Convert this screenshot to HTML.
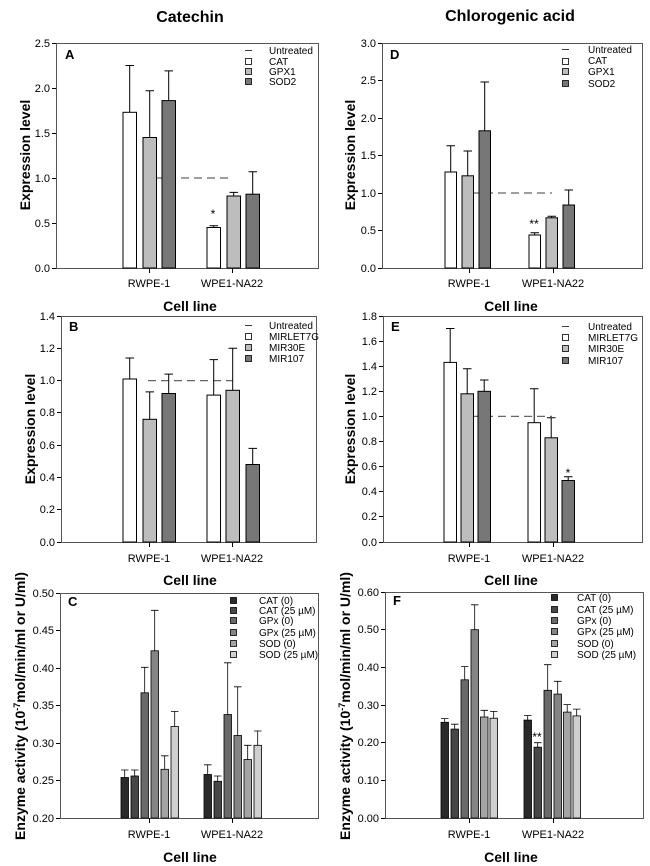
<!DOCTYPE html>
<html><head><meta charset="utf-8"><style>
html,body{margin:0;padding:0;background:#fff}
svg{display:block}
text{font-family:"Liberation Sans",Arial,sans-serif;fill:#000}
.t{font-size:11px}
.lg{font-size:10px;fill:#222}
.ax{font-size:14px;font-weight:bold}
.ti{font-size:16px;font-weight:bold}
.pl{font-size:13px;font-weight:bold}
</style></head><body>
<svg width="650" height="866" viewBox="0 0 650 866" xmlns="http://www.w3.org/2000/svg">
<g stroke="#000" stroke-width="1" fill="none">
<!-- frames -->
<rect x="56.5" y="43.5" width="262" height="225" stroke="#555"/>
<rect x="61.5" y="316.5" width="255" height="226" stroke="#555"/>
<rect x="60.5" y="593.5" width="258" height="225" stroke="#555"/>
<rect x="382.5" y="43.5" width="260" height="225" stroke="#555"/>
<rect x="383.5" y="316.5" width="259" height="226" stroke="#555"/>
<rect x="385.5" y="592.5" width="258" height="226" stroke="#555"/>
</g>
<!-- y ticks -->
<g stroke="#000">
<path d="M52 268.5h4M52 223.5h4M52 178.5h4M52 133.5h4M52 88.5h4M52 43.5h4"/>
<path d="M57 542.5h4M57 509.5h4M57 477.5h4M57 445.5h4M57 412.5h4M57 380.5h4M57 348.5h4M57 316.5h4"/>
<path d="M56 818.5h4M56 780.5h4M56 743.5h4M56 705.5h4M56 668.5h4M56 630.5h4M56 593.5h4"/>
<path d="M378 268.5h4M378 230.5h4M378 193.5h4M378 155.5h4M378 118.5h4M378 80.5h4M378 43.5h4"/>
<path d="M379 542.5h4M379 516.5h4M379 491.5h4M379 466.5h4M379 441.5h4M379 416.5h4M379 391.5h4M379 366.5h4M379 341.5h4M379 316.5h4"/>
<path d="M381 818.5h4M381 780.5h4M381 742.5h4M381 705.5h4M381 667.5h4M381 629.5h4M381 592.5h4"/>
<!-- x ticks -->
<path d="M149.5 268v5M232.5 268v5M149.5 542v5M232.5 542v5M149.5 818v5M232.5 818v5M469.5 268v5M553.5 268v5M469.5 542v5M553.5 542v5M469.5 818v5M553.5 818v5"/>
</g>
<!-- tick labels -->
<g class="t" text-anchor="end">
<text x="50" y="272">0.0</text><text x="50" y="227">0.5</text><text x="50" y="182">1.0</text><text x="50" y="137">1.5</text><text x="50" y="92">2.0</text><text x="50" y="47">2.5</text>
<text x="55" y="546">0.0</text><text x="55" y="513">0.2</text><text x="55" y="481">0.4</text><text x="55" y="449">0.6</text><text x="55" y="416">0.8</text><text x="55" y="384">1.0</text><text x="55" y="352">1.2</text><text x="55" y="320">1.4</text>
<text x="54" y="822">0.20</text><text x="54" y="784">0.25</text><text x="54" y="747">0.30</text><text x="54" y="709">0.35</text><text x="54" y="672">0.40</text><text x="54" y="634">0.45</text><text x="54" y="597">0.50</text>
<text x="376" y="272">0.0</text><text x="376" y="234">0.5</text><text x="376" y="197">1.0</text><text x="376" y="159">1.5</text><text x="376" y="122">2.0</text><text x="376" y="84">2.5</text><text x="376" y="47">3.0</text>
<text x="377" y="546">0.0</text><text x="377" y="520">0.2</text><text x="377" y="495">0.4</text><text x="377" y="470">0.6</text><text x="377" y="445">0.8</text><text x="377" y="420">1.0</text><text x="377" y="395">1.2</text><text x="377" y="370">1.4</text><text x="377" y="345">1.6</text><text x="377" y="320">1.8</text>
<text x="379" y="822">0.00</text><text x="379" y="784">0.10</text><text x="379" y="746">0.20</text><text x="379" y="709">0.30</text><text x="379" y="671">0.40</text><text x="379" y="633">0.50</text><text x="379" y="596">0.60</text>
</g>
<g class="t" text-anchor="middle">
<text x="149" y="287">RWPE-1</text><text x="232" y="287">WPE1-NA22</text>
<text x="149" y="562">RWPE-1</text><text x="232" y="562">WPE1-NA22</text>
<text x="149" y="838">RWPE-1</text><text x="232" y="838">WPE1-NA22</text>
<text x="469" y="287">RWPE-1</text><text x="553" y="287">WPE1-NA22</text>
<text x="469" y="562">RWPE-1</text><text x="553" y="562">WPE1-NA22</text>
<text x="469" y="838">RWPE-1</text><text x="553" y="838">WPE1-NA22</text>
</g>
<g class="ax" text-anchor="middle">
<text x="190" y="311">Cell line</text><text x="190" y="585">Cell line</text><text x="190" y="862">Cell line</text>
<text x="511" y="311">Cell line</text><text x="511" y="585">Cell line</text><text x="511" y="862">Cell line</text>
<text transform="translate(30,155) rotate(-90)">Expression level</text>
<text transform="translate(35,429) rotate(-90)">Expression level</text>
<text transform="translate(355,155) rotate(-90)">Expression level</text>
<text transform="translate(355,429) rotate(-90)">Expression level</text>
<text transform="translate(25,706) rotate(-90)">Enzyme activity (10<tspan font-size="9" dy="-5">-7</tspan><tspan dy="5">mol/min/ml or U/ml)</tspan></text>
<text transform="translate(350,706) rotate(-90)">Enzyme activity (10<tspan font-size="9" dy="-5">-7</tspan><tspan dy="5">mol/min/ml or U/ml)</tspan></text>
</g>
<g class="ti" text-anchor="middle"><text x="190" y="22">Catechin</text><text x="510" y="21">Chlorogenic acid</text></g>
<g class="pl"><text x="65" y="59">A</text><text x="69" y="331">B</text><text x="68" y="606">C</text><text x="390" y="59">D</text><text x="391" y="331">E</text><text x="393" y="605">F</text></g>

<!-- dashed -->
<g stroke="#666" stroke-width="1.3" stroke-dasharray="8,5">
<path d="M155 178H233M148 380.6H233M472 193H552M472 416.4H552"/>
</g>

<!-- Panel A bars -->
<g stroke="#000" stroke-width="1">
<rect x="123" y="112.3" width="13.5" height="155.7" fill="#fff"/>
<rect x="143" y="137.5" width="13.5" height="130.5" fill="#bdbdbd"/>
<rect x="162" y="100.6" width="13.5" height="167.4" fill="#777"/>
<rect x="207" y="227.5" width="13.5" height="40.5" fill="#fff"/>
<rect x="227" y="196" width="13.5" height="72" fill="#bdbdbd"/>
<rect x="246" y="194.2" width="13.5" height="73.8" fill="#777"/>
<path d="M129.7 112.3V65.5M125.5 65.5h8.5M149.7 137.5V90.7M145.5 90.7h8.5M168.7 100.6V70.9M164.5 70.9h8.5M213.7 227.5V225.7M209.5 225.7h8.5M233.7 196V192.4M229.5 192.4h8.5M252.7 194.2V171.7M248.5 171.7h8.5"/>
</g>
<!-- B -->
<g stroke="#000">
<rect x="123" y="379" width="13.5" height="163" fill="#fff"/>
<rect x="143" y="419.3" width="13.5" height="122.7" fill="#bdbdbd"/>
<rect x="162" y="393.5" width="13.5" height="148.5" fill="#777"/>
<rect x="207" y="395.1" width="13.5" height="146.9" fill="#fff"/>
<rect x="226" y="390.3" width="13.5" height="151.7" fill="#bdbdbd"/>
<rect x="246" y="464.5" width="13.5" height="77.5" fill="#777"/>
<path d="M129.7 379V358M125.5 358h8.5M149.7 419.3V391.9M145.5 391.9h8.5M168.7 393.5V374.1M164.5 374.1h8.5M213.7 395.1V359.6M209.5 359.6h8.5M232.7 390.3V348.3M228.5 348.3h8.5M252.7 464.5V448.4M248.5 448.4h8.5"/>
</g>
<!-- D -->
<g stroke="#000">
<rect x="445" y="172" width="11.5" height="96" fill="#fff"/>
<rect x="462" y="175.8" width="11.5" height="92.2" fill="#bdbdbd"/>
<rect x="479" y="130.8" width="11.5" height="137.2" fill="#777"/>
<rect x="529" y="235" width="11.5" height="33" fill="#fff"/>
<rect x="546" y="217.8" width="11.5" height="50.2" fill="#bdbdbd"/>
<rect x="563" y="205" width="11.5" height="63" fill="#777"/>
<path d="M450.7 172V145.8M446.5 145.8h8.5M467.7 175.8V151M463.5 151h8.5M484.7 130.8V82M480.5 82h8.5M534.7 235V232.8M530.5 232.8h8.5M551.7 217.8V216.3M547.5 216.3h8.5M568.7 205V190M564.5 190h8.5"/>
</g>
<!-- E -->
<g stroke="#000">
<rect x="444" y="362.4" width="12.5" height="179.6" fill="#fff"/>
<rect x="461" y="393.8" width="12.5" height="148.2" fill="#bdbdbd"/>
<rect x="478" y="391.3" width="12.5" height="150.7" fill="#777"/>
<rect x="528" y="422.7" width="12.5" height="119.3" fill="#fff"/>
<rect x="545" y="437.8" width="12.5" height="104.2" fill="#bdbdbd"/>
<rect x="562" y="480.5" width="12.5" height="61.5" fill="#777"/>
<path d="M450.2 362.4V328.5M446 328.5h8.5M467.2 393.8V368.7M463 368.7h8.5M484.2 391.3V380M480 380h8.5M534.2 422.7V388.8M530 388.8h8.5M551.2 437.8V417.7M547 417.7h8.5M568.2 480.5V476.7M564 476.7h8.5"/>
</g>
<!-- C -->
<g stroke="#000" stroke-width="0.8">
<rect x="121" y="777.5" width="7.5" height="40.5" fill="#2a2a2a"/>
<rect x="131" y="776" width="7.5" height="42" fill="#474747"/>
<rect x="141" y="692.8" width="7.5" height="125.2" fill="#696969"/>
<rect x="151" y="650.8" width="7.5" height="167.2" fill="#858585"/>
<rect x="161" y="769.3" width="7.5" height="48.7" fill="#a4a4a4"/>
<rect x="171" y="726.5" width="7.5" height="91.5" fill="#cfcfcf"/>
<rect x="204" y="774.5" width="7.5" height="43.5" fill="#2a2a2a"/>
<rect x="214" y="781.3" width="7.5" height="36.7" fill="#474747"/>
<rect x="224" y="714.5" width="7.5" height="103.5" fill="#696969"/>
<rect x="234" y="735.5" width="7.5" height="82.5" fill="#858585"/>
<rect x="244" y="759.5" width="7.5" height="58.5" fill="#a4a4a4"/>
<rect x="254" y="745.3" width="7.5" height="72.7" fill="#cfcfcf"/>
<path d="M124.7 777.5V770M121 770h7.5M134.7 776V770M131 770h7.5M144.7 692.8V667.3M141 667.3h7.5M154.7 650.8V610.3M151 610.3h7.5M164.7 769.3V755.8M161 755.8h7.5M174.7 726.5V711.5M171 711.5h7.5M207.7 774.5V764.8M204 764.8h7.5M217.7 781.3V776M214 776h7.5M227.7 714.5V662.8M224 662.8h7.5M237.7 735.5V686.8M234 686.8h7.5M247.7 759.5V745.3M244 745.3h7.5M257.7 745.3V731M254 731h7.5"/>
</g>
<!-- F -->
<g stroke="#000" stroke-width="0.8">
<rect x="441" y="722.3" width="7.5" height="95.7" fill="#2a2a2a"/>
<rect x="451" y="729.1" width="7.5" height="88.9" fill="#474747"/>
<rect x="461" y="679.8" width="7.5" height="138.2" fill="#696969"/>
<rect x="471" y="629.7" width="7.5" height="188.3" fill="#858585"/>
<rect x="480.5" y="717" width="7.5" height="101" fill="#a4a4a4"/>
<rect x="490" y="718.2" width="7.5" height="99.8" fill="#cfcfcf"/>
<rect x="524" y="720.1" width="7.5" height="97.9" fill="#2a2a2a"/>
<rect x="534" y="747.2" width="7.5" height="70.8" fill="#474747"/>
<rect x="544" y="690.3" width="7.5" height="127.7" fill="#696969"/>
<rect x="554" y="694.1" width="7.5" height="123.9" fill="#858585"/>
<rect x="563.5" y="712.1" width="7.5" height="105.9" fill="#a4a4a4"/>
<rect x="573" y="715.9" width="7.5" height="102.1" fill="#cfcfcf"/>
<path d="M444.7 722.3V718.6M441 718.6h7.5M454.7 729.1V724.2M451 724.2h7.5M464.7 679.8V666.6M461 666.6h7.5M474.7 629.7V604.8M471 604.8h7.5M484.2 717V710.3M480.5 710.3h7.5M493.7 718.2V711.4M490 711.4h7.5M527.7 720.1V715.5M524 715.5h7.5M537.7 747.2V742.7M534 742.7h7.5M547.7 690.3V664.7M544 664.7h7.5M557.7 694.1V681.3M554 681.3h7.5M567.2 712.1V704.6M563.5 704.6h7.5M576.7 715.9V709.1M573 709.1h7.5"/>
</g>
<!-- significance -->
<g font-size="12" text-anchor="middle" font-family="Liberation Sans,sans-serif">
<text x="213" y="218">*</text><text x="534" y="228">**</text><text x="568" y="477">*</text><text x="537" y="741">**</text>
</g>

<!-- Legends A/D -->
<g stroke="#000" stroke-width="0.8">
<path d="M245 50.5h7M562 49.5h7M245 325.5h7M562 326.5h7"/>
<rect x="245.5" y="58.5" width="6" height="6" fill="#fff"/><rect x="245.5" y="68.5" width="6" height="6" fill="#bdbdbd"/><rect x="245.5" y="78.5" width="6" height="6" fill="#777"/>
<rect x="562.5" y="58.5" width="6" height="6" fill="#fff"/><rect x="562.5" y="68.5" width="6" height="6" fill="#bdbdbd"/><rect x="562.5" y="80.5" width="6" height="6" fill="#777"/>
<rect x="245.5" y="333.5" width="6" height="6" fill="#fff"/><rect x="245.5" y="344.5" width="6" height="6" fill="#bdbdbd"/><rect x="245.5" y="355.5" width="6" height="6" fill="#777"/>
<rect x="562.5" y="334.5" width="6" height="6" fill="#fff"/><rect x="562.5" y="345.5" width="6" height="6" fill="#bdbdbd"/><rect x="562.5" y="357.5" width="6" height="6" fill="#777"/>
<rect x="230.5" y="597.5" width="6" height="6" fill="#2a2a2a"/><rect x="230.5" y="607.5" width="6" height="6" fill="#474747"/><rect x="230.5" y="617.5" width="6" height="6" fill="#696969"/><rect x="230.5" y="629.5" width="6" height="6" fill="#858585"/><rect x="230.5" y="640.5" width="6" height="6" fill="#a4a4a4"/><rect x="230.5" y="651.5" width="6" height="6" fill="#cfcfcf"/>
<rect x="551.5" y="594.5" width="6" height="6" fill="#2a2a2a"/><rect x="551.5" y="606.5" width="6" height="6" fill="#474747"/><rect x="551.5" y="617.5" width="6" height="6" fill="#696969"/><rect x="551.5" y="628.5" width="6" height="6" fill="#858585"/><rect x="551.5" y="640.5" width="6" height="6" fill="#a4a4a4"/><rect x="551.5" y="651.5" width="6" height="6" fill="#cfcfcf"/>
</g>
<g class="lg">
<text x="269" y="54">Untreated</text><text x="269" y="65">CAT</text><text x="269" y="75">GPX1</text><text x="269" y="85">SOD2</text>
<text x="588" y="53">Untreated</text><text x="588" y="64">CAT</text><text x="588" y="75">GPX1</text><text x="588" y="87">SOD2</text>
<text x="269" y="329">Untreated</text><text x="269" y="340">MIRLET7G</text><text x="269" y="351">MIR30E</text><text x="269" y="362">MIR107</text>
<text x="588" y="330">Untreated</text><text x="588" y="341">MIRLET7G</text><text x="588" y="352">MIR30E</text><text x="588" y="364">MIR107</text>
<text x="259" y="604">CAT (0)</text><text x="259" y="614">CAT (25 µM)</text><text x="259" y="624">GPx (0)</text><text x="259" y="636">GPx (25 µM)</text><text x="259" y="647">SOD (0)</text><text x="259" y="658">SOD (25 µM)</text>
<text x="577" y="601">CAT (0)</text><text x="577" y="613">CAT (25 µM)</text><text x="577" y="624">GPx (0)</text><text x="577" y="635">GPx (25 µM)</text><text x="577" y="647">SOD (0)</text><text x="577" y="658">SOD (25 µM)</text>
</g>
</svg>
</body></html>
